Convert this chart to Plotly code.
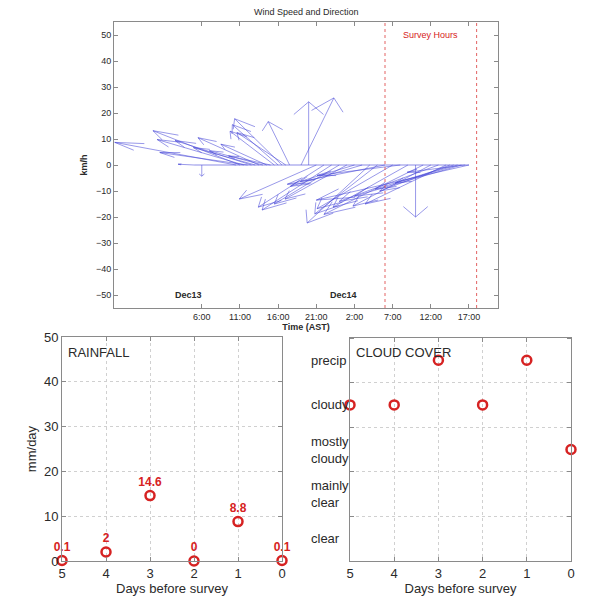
import plotly.graph_objects as go

# ---------------- data ----------------
# wind observations: time in hours since Dec 13 00:00 (AST), components in km/h
wind_time_h = [5, 6, 10.5, 11, 11.5, 12, 12.5, 13, 13.5, 14, 14.5, 15,
               15.5, 16, 16.5, 17, 17.5, 19, 20,
               21, 22, 23, 24, 25, 26, 27, 28, 29, 30, 31, 32, 33, 34,
               35, 36, 37, 38, 38.5, 39, 39.5, 40, 40.5, 41]
wind_u_kmh = [-2.1, 0.0, -15.9, -11.4, -11.35, -11.5, -10.0, -8.1, -8.0, -7.0, -6.0, -5.5,
              -5.8, -6.0, -6.2, -6.4, -2.8, 4.3, 0.0,
              -10.1, -8.6, -9.1, -8.5, -8.1, -7.1, -9.4, -8.2, -8.2, -12.8, -9.9, -10.9, -9.8, 0.0,
              -13.0, -10.2, -13.0, -10.6, -9.2, -10.3, -8.2, -14.0, -7.6, -20.0]
wind_v_kmh = [0.3, -4.3, 8.7, 13.2, 9.8, 4.8, 9.4, 6.7, 10.5, 5.5, 8.0, 3.5,
              13.0, 15.5, 17.8, 12.5, 16.7, 25.8, 24.3,
              -13.1, -16.2, -17.3, -15.0, -13.1, -6.3, -8.2, -22.3, -18.8, -7.4, -16.8, -4.0, -16.2, -20.0,
              -19.0, -15.8, -14.0, -15.0, -10.0, -9.3, -7.0, -12.0, -2.8, -13.5]

survey_start_h = 30   # Dec 14 06:00
survey_end_h = 42     # Dec 14 18:00

time_tick_vals = [6, 11, 16, 21, 26, 31, 36, 41]
time_tick_text = ["6:00", "11:00", "16:00", "21:00", "2:00", "7:00", "12:00", "17:00"]

days_before = [5, 4, 3, 2, 1, 0]
rainfall_mm = [0.1, 2, 14.6, 0, 8.8, 0.1]

cloud_levels = ["clear", "mainly<br>clear", "mostly<br>cloudy", "cloudy", "precip"]
cloud_cover = ["cloudy", "cloudy", "precip", "cloudy", "precip", "mostly<br>cloudy"]

# ---------------- build ----------------
OFF = 8                     # page body margin
W, H = 592 - OFF, 597 - OFF
FONT = "Liberation Sans, Arial, sans-serif"
BLUE = "rgba(70,70,215,0.62)"
RED = "#d62222"
FRAME = "#8a8a8a"
TXT = "#2a2a2a"

def px(x):
    return (x - OFF) / W

def py(y):
    return 1 - (y - OFF) / H

# feather arrows (shaft + open head) in data units
xs, ys = [], []
for t, u, v in zip(wind_time_h, wind_u_kmh, wind_v_kmh):
    tx, ty = t + u, v
    h1 = (t + 0.8 * u - 0.08 * v, 0.8 * v + 0.08 * u)
    h2 = (t + 0.8 * u + 0.08 * v, 0.8 * v - 0.08 * u)
    xs += [t, tx, None, h1[0], tx, h2[0], None]
    ys += [0, ty, None, h1[1], ty, h2[1], None]

fig = go.Figure()

# baseline
fig.add_trace(go.Scatter(x=[min(wind_time_h), max(wind_time_h)], y=[0, 0], mode="lines",
                         line=dict(color=BLUE, width=1), xaxis="x", yaxis="y",
                         showlegend=False, hoverinfo="skip"))
fig.add_trace(go.Scatter(x=xs, y=ys, mode="lines", line=dict(color=BLUE, width=0.9),
                         xaxis="x", yaxis="y", showlegend=False, hoverinfo="skip"))

# rainfall
fig.add_trace(go.Scatter(x=days_before, y=rainfall_mm, mode="markers+text",
                         text=[str(r) for r in rainfall_mm], textposition="top center",
                         textfont=dict(color=RED, size=12, family=FONT, weight="bold"),
                         marker=dict(symbol="circle-open", size=9, color=RED, line=dict(width=2.5, color=RED)),
                         cliponaxis=False, xaxis="x2", yaxis="y2", showlegend=False))

# cloud cover
cloud_y = [cloud_levels.index(c) + 0.5 for c in cloud_cover]
fig.add_trace(go.Scatter(x=days_before, y=cloud_y, mode="markers",
                         marker=dict(symbol="circle-open", size=9, color=RED, line=dict(width=2.5, color=RED)),
                         cliponaxis=False, xaxis="x3", yaxis="y3", showlegend=False))

axis_common = dict(showline=True, linecolor=FRAME, linewidth=1, mirror="ticks",
                   ticks="inside", tickcolor=FRAME, zeroline=False, automargin=False)

fig.update_layout(
    width=W, height=H,
    margin=dict(l=0, r=0, t=0, b=0),
    paper_bgcolor="white", plot_bgcolor="white",
    font=dict(family=FONT, color=TXT),
    xaxis=dict(domain=[px(114), px(498)], range=[-5.5, 44.8], anchor="y",
               tickvals=time_tick_vals, ticktext=time_tick_text, ticklen=4,
               tickfont=dict(size=9, color=TXT), showgrid=False,
               title=dict(text="<b>Time (AST)</b>", font=dict(size=9, color=TXT), standoff=2),
               **axis_common),
    yaxis=dict(domain=[py(308), py(22)], range=[-55, 55], anchor="x",
               tickvals=list(range(-50, 51, 10)), ticklen=4,
               tickfont=dict(size=9, color=TXT), showgrid=False,
               title=dict(text="<b>km/h</b>", font=dict(size=9, color=TXT), standoff=6),
               **axis_common),
    xaxis2=dict(domain=[px(62), px(282)], range=[5, 0], anchor="y2",
                tickvals=days_before, ticklen=4, tickfont=dict(size=13, color=TXT),
                showgrid=True, gridcolor="#d0d0d0", griddash="dot",
                title=dict(text="Days before survey", font=dict(size=13, color=TXT), standoff=2),
                **axis_common),
    yaxis2=dict(domain=[py(561), py(337)], range=[0, 50], anchor="x2",
                tickvals=list(range(0, 51, 10)), ticklen=4, tickfont=dict(size=13, color=TXT),
                showgrid=True, gridcolor="#d0d0d0", griddash="dot",
                title=dict(text="mm/day", font=dict(size=13, color=TXT), standoff=4),
                **axis_common),
    xaxis3=dict(domain=[px(350), px(571)], range=[5, 0], anchor="y3",
                tickvals=days_before, ticklen=4, tickfont=dict(size=13, color=TXT),
                showgrid=True, gridcolor="#d0d0d0", griddash="dot",
                title=dict(text="Days before survey", font=dict(size=13, color=TXT), standoff=2),
                **axis_common),
    yaxis3=dict(domain=[py(561), py(338)], range=[0, 5], anchor="x3",
                tickvals=[i + 0.5 for i in range(len(cloud_levels))],
                ticktext=["" for _ in cloud_levels], ticklen=0,
                showgrid=False,
                minor=dict(tickmode="linear", tick0=0, dtick=1, showgrid=True,
                           gridcolor="#d0d0d0", griddash="dot", ticks="inside",
                           ticklen=4, tickcolor=FRAME),
                **{k: v for k, v in axis_common.items() if k != "ticks"}),
)

# survey-hour lines
for xv in (survey_start_h, survey_end_h):
    fig.add_shape(type="line", xref="x", yref="y domain", x0=xv, x1=xv, y0=0, y1=1,
                  line=dict(color="rgba(220,60,60,0.8)", width=1, dash="dot"))

ann = []
ann.append(dict(text="Wind Speed and Direction", xref="paper", yref="paper",
                x=px(306), y=py(5), yanchor="top", showarrow=False,
                font=dict(size=9, color=TXT)))
ann.append(dict(text="Survey Hours", xref="x", yref="y", x=36, y=50, showarrow=False,
                font=dict(size=9, color=RED)))
ann.append(dict(text="<b>Dec13</b>", xref="x", yref="y", x=4.2, y=-50, showarrow=False,
                font=dict(size=9, color=TXT)))
ann.append(dict(text="<b>Dec14</b>", xref="x", yref="y", x=24.5, y=-50, showarrow=False,
                font=dict(size=9, color=TXT)))
ann.append(dict(text="RAINFALL", xref="paper", yref="paper", x=px(66), y=py(352),
                xanchor="left", showarrow=False, font=dict(size=13, color=TXT)))
ann.append(dict(text="CLOUD COVER", xref="paper", yref="paper", x=px(354), y=py(352),
                xanchor="left", showarrow=False, font=dict(size=13, color=TXT)))
for i, lab in enumerate(cloud_levels):
    ann.append(dict(text=lab, xref="paper", yref="y3", x=px(309), y=i + 0.5,
                    xanchor="left", align="left", showarrow=False,
                    font=dict(size=13, color=TXT)))
fig.update_layout(annotations=ann)

fig.write_html("out.html")
